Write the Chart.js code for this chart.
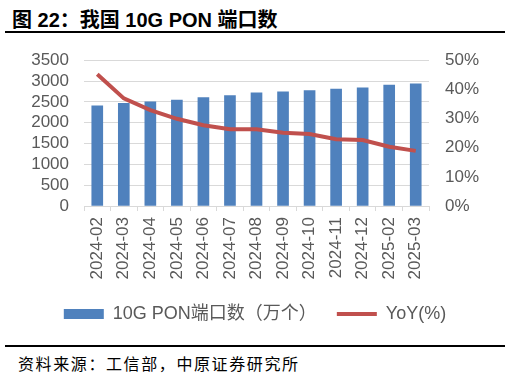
<!DOCTYPE html>
<html>
<head>
<meta charset="utf-8">
<script src="https://cdn.jsdelivr.net/npm/chart.js@4/dist/chart.umd.min.js"></script>
<style>
    html, body { margin: 0; padding: 0; background: #fff; }
    body { width: 510px; height: 378px; position: relative; overflow: hidden;
           font-family: "Liberation Sans", "Noto Sans CJK SC", sans-serif; }
    #title { position: absolute; left: 12px; top: 4px; font-size: 20px; font-weight: bold; color: #000; }
    .rule { position: absolute; left: 5px; width: 500px; height: 2px; background: #000; }
    #wrap { position: absolute; left: 0; top: 34px; width: 510px; height: 308px; }
    #source { position: absolute; left: 18px; top: 351px; font-size: 16px; letter-spacing: 1.6px; color: #000;
              font-family: "Noto Sans CJK SC", sans-serif; }
</style>
</head>
<body>
<div id="title">图 22：我国 10G PON 端口数</div>
<div class="rule" style="top:31px"></div>
<div id="wrap"><canvas id="chart" width="510" height="308"></canvas></div>
<div class="rule" style="top:345px"></div>
<div id="source">资料来源：工信部，中原证券研究所</div>

<script>
// ---------------------------------------------------------
// DATA
// ---------------------------------------------------------
const months = ['2024-02', '2024-03', '2024-04', '2024-05', '2024-06', '2024-07', '2024-08',
                '2024-09', '2024-10', '2024-11', '2024-12', '2025-02', '2025-03'];
const ports = [2404, 2462, 2500, 2541, 2605, 2653, 2716, 2740, 2773, 2805, 2836, 2900, 2932]; // 万个
const yoy = [45.2, 36.9, 32.9, 29.9, 27.7, 26.3, 26.3, 25.1, 24.7, 22.9, 22.6, 20.3, 18.9];  // %
const leftTicks = [0, 500, 1000, 1500, 2000, 2500, 3000, 3500];
const rightTicks = [0, 10, 20, 30, 40, 50];

const BAR_COLOR = '#4F81BD';
const LINE_COLOR = '#C0504D';
const GRID_COLOR = '#D9D9D9';
const TEXT_COLOR = '#595959';

Chart.defaults.font.family = '"Liberation Sans", "Noto Sans CJK SC", sans-serif';
Chart.defaults.font.size = 17;
Chart.defaults.color = TEXT_COLOR;

new Chart(document.getElementById('chart'), {
    type: 'bar',
    data: {
        labels: months,
        datasets: [
            {
                type: 'line',
                label: 'YoY(%)',
                data: yoy,
                yAxisID: 'y1',
                borderColor: LINE_COLOR,
                borderWidth: 4,
                pointRadius: 0,
                tension: 0,
                order: 0
            },
            {
                label: '10G PON端口数（万个）',
                data: ports,
                yAxisID: 'y',
                backgroundColor: BAR_COLOR,
                barThickness: 11,
                order: 1
            }
        ]
    },
    options: {
        responsive: false,
        animation: false,
        layout: { padding: { top: 26, bottom: 9, left: 0, right: 0 } },
        plugins: {
            tooltip: { enabled: false },
            legend: {
                position: 'bottom',
                labels: {
                    usePointStyle: true,
                    pointStyleWidth: 40,
                    boxHeight: 10,
                    padding: 20,
                    color: TEXT_COLOR,
                    font: { size: 18 },
                    generateLabels: () => [
                        { text: '10G PON端口数（万个）', pointStyle: 'rect', fillStyle: BAR_COLOR,
                          strokeStyle: BAR_COLOR, lineWidth: 0, fontColor: TEXT_COLOR, datasetIndex: 1 },
                        { text: 'YoY(%)', pointStyle: 'line', fillStyle: LINE_COLOR,
                          strokeStyle: LINE_COLOR, lineWidth: 4, fontColor: TEXT_COLOR, datasetIndex: 0 }
                    ]
                }
            }
        },
        scales: {
            x: {
                grid: { drawOnChartArea: false, drawTicks: true, tickLength: 5, color: GRID_COLOR, offset: true },
                border: { display: true, color: GRID_COLOR },
                ticks: { minRotation: 90, maxRotation: 90, padding: 6, autoSkip: false },
                afterFit: scale => { scale.height = 79; }
            },
            y: {
                position: 'left',
                min: leftTicks[0],
                max: leftTicks[leftTicks.length - 1],
                afterBuildTicks: scale => { scale.ticks = leftTicks.map(v => ({ value: v })); },
                grid: { color: GRID_COLOR, drawTicks: false },
                border: { display: false },
                ticks: { padding: 15, autoSkip: false, callback: v => String(v) },
                afterFit: scale => { scale.width = 84; }
            },
            y1: {
                position: 'right',
                min: rightTicks[0],
                max: rightTicks[rightTicks.length - 1],
                afterBuildTicks: scale => { scale.ticks = rightTicks.map(v => ({ value: v })); },
                grid: { drawOnChartArea: false, drawTicks: false },
                border: { display: false },
                ticks: { padding: 16, autoSkip: false, callback: v => v + '%' },
                afterFit: scale => { scale.width = 81; }
            }
        }
    }
});
</script>
</body>
</html>
